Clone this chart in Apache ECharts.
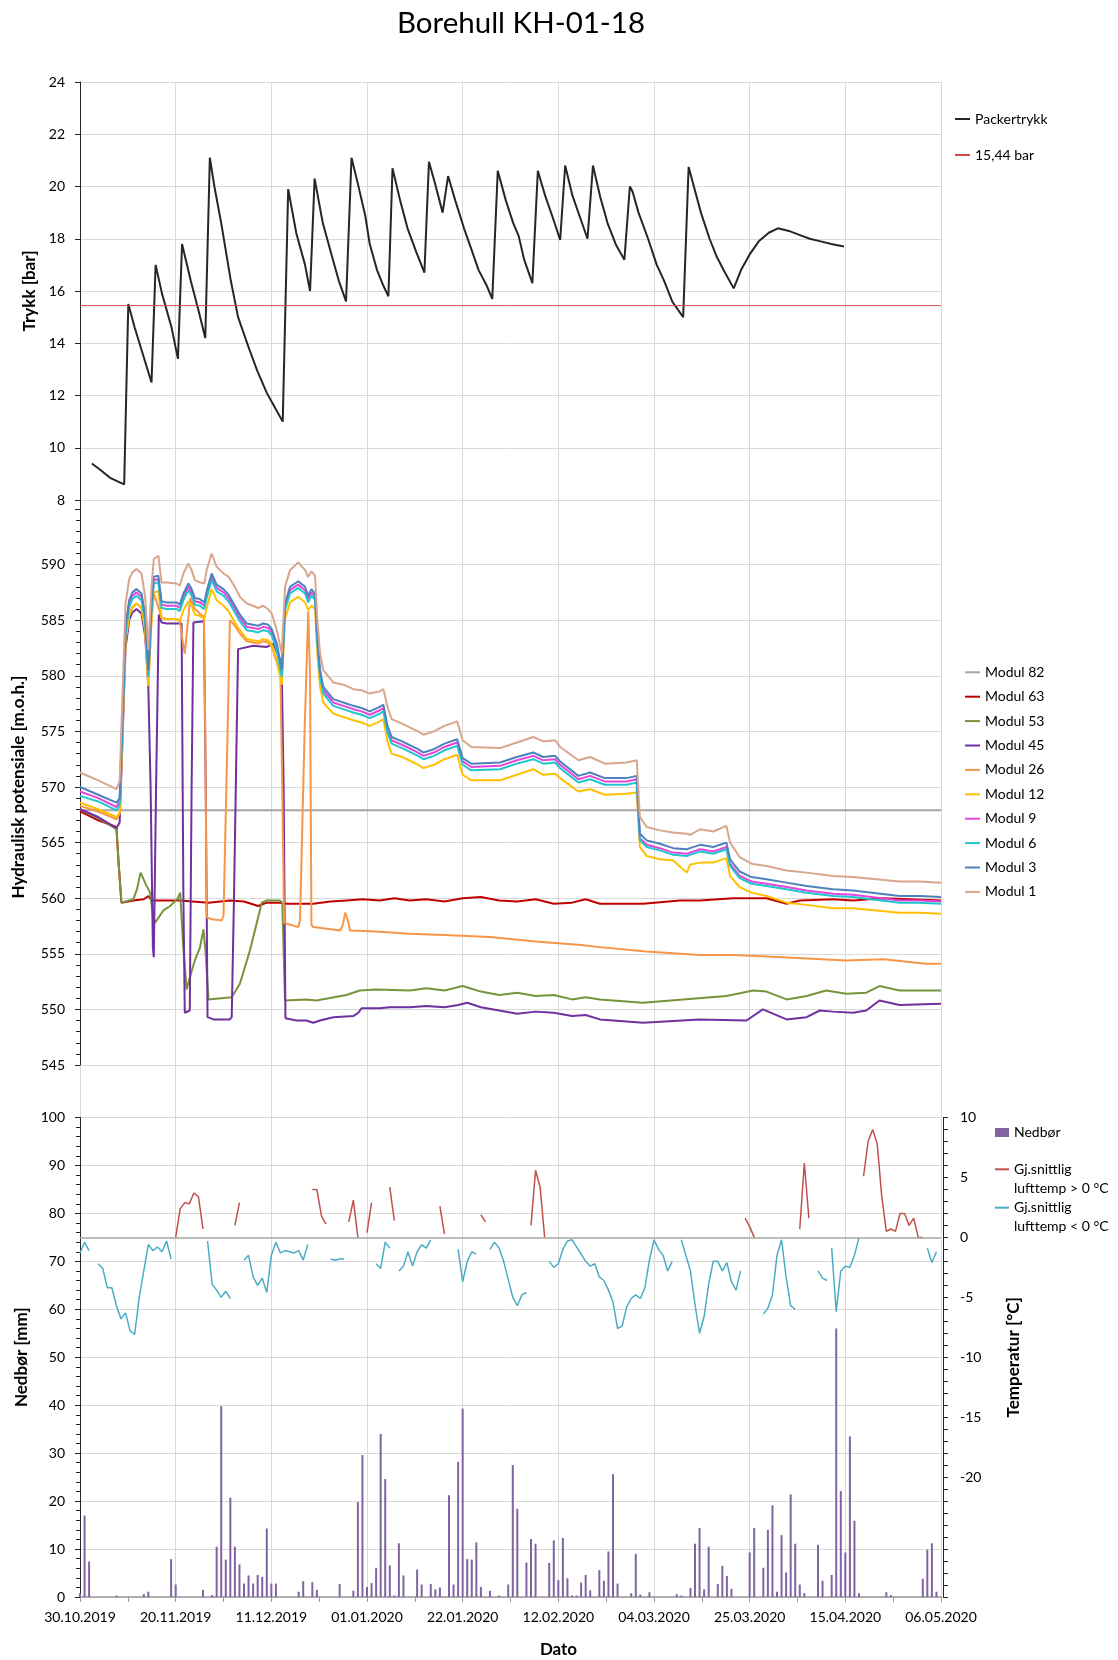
<!DOCTYPE html>
<html>
<head>
<meta charset="utf-8">
<title>Borehull KH-01-18</title>
<script src="https://cdn.jsdelivr.net/npm/echarts@6/dist/echarts.min.js"></script>
<style>
html,body{margin:0;padding:0;background:#ffffff;}
#chart{width:1118px;height:1660px;}
</style>
</head>
<body>
<div id="chart"></div>
<script>
// x values = days after 30.10.2019
const xTickLabels = ['30.10.2019','20.11.2019','11.12.2019','01.01.2020','22.01.2020','12.02.2020','04.03.2020','25.03.2020','15.04.2020','06.05.2020'];

const packertrykk = [[2.6,9.4],[4.5,9.15],[6.6,8.85],[9.7,8.6],[10.6,15.5],[12,14.6],[15.7,12.5],[16.6,17.0],[18,15.9],[20.1,14.6],[21.5,13.4],[22.4,17.8],[24.3,16.4],[26.1,15.2],[27.5,14.2],[28.5,21.1],[29.5,20.0],[31,18.6],[33.1,16.4],[34.7,15.0],[37.1,13.8],[38.9,12.95],[41,12.1],[42.9,11.5],[44.5,11.0],[45.7,19.9],[47.5,18.2],[49.4,17.0],[50.5,16.0],[51.5,20.3],[53.3,18.6],[55.2,17.4],[56.8,16.4],[58.4,15.6],[59.6,21.1],[61,20.1],[62.6,18.9],[63.6,17.8],[65.2,16.8],[66.6,16.2],[67.7,15.8],[68.6,20.7],[70.3,19.45],[71.9,18.4],[73.8,17.5],[75.6,16.7],[76.6,20.95],[77.8,20.2],[79.6,19.0],[80.8,20.4],[82.4,19.45],[84.3,18.4],[85.9,17.6],[87.5,16.8],[89.3,16.2],[90.5,15.7],[91.7,20.6],[93.5,19.45],[95.1,18.6],[96.3,18.1],[97.5,17.2],[99.3,16.3],[100.5,20.6],[102.1,19.65],[103.7,18.85],[105.4,17.95],[106.5,20.8],[108.1,19.65],[109.7,18.85],[111.4,18.0],[112.6,20.8],[114.2,19.6],[115.8,18.6],[117.7,17.75],[119.5,17.2],[120.7,20.0],[121.3,19.8],[122.6,19.0],[124.7,18.0],[126.6,17.0],[128.2,16.4],[130,15.6],[132.4,15.0],[133.6,20.75],[134.9,19.9],[136.3,19.0],[138.2,18.0],[139.8,17.3],[141.6,16.7],[143.5,16.1],[145.1,16.8],[147,17.4],[149,17.9],[151.2,18.23],[153.2,18.4],[155.6,18.3],[157.9,18.15],[160.2,18.0],[162.6,17.9],[164.9,17.8],[167.7,17.7]];
const refPressure = 15.44;

const hydDays = [0,4,8,8.7,9.3,10,10.8,11.5,12.4,13.5,14.3,15,15.7,16.2,17.2,17.9,19,21.2,21.9,22.7,23.8,24.5,25.2,26.3,27.3,27.8,28.9,30,31.5,32.6,34,35.1,36.6,38,39.1,40.2,41.3,42.1,43.2,44.3,45,46.1,47.9,49.4,50.1,50.8,51.6,52.1,52.7,53.4,55.6,57.8,60,61.8,63.6,65.8,66.6,67.5,68.4,70.7,74.2,75.4,77.7,80,82.8,84,85.9,92.2,95.9,99.5,101.7,104.3,105.4,109.4,112,115.2,120,122.2,122.9,124.4,127.3,130.2,133.2,133.9,136.1,139,141.9,142.7,144.8,147.4,150.7,155.1,159.5,165.3,169.7,179.9,184.3,189];
const modul1 = [571.3,570.6,569.8,570.5,578.0,586.5,588.7,589.3,589.6,589.2,587.1,582.3,588.0,590.5,590.8,588.4,588.4,588.3,588.1,589.2,590.1,589.5,588.6,588.4,588.3,589.5,591.0,589.8,589.2,588.9,588.0,587.1,586.5,586.3,586.1,586.3,586.0,585.6,584.1,582.0,588.0,589.5,590.2,589.5,588.9,589.4,589.0,585.0,582.0,580.5,579.4,579.2,578.8,578.7,578.4,578.6,578.8,577.2,576.1,575.7,575.0,574.7,575.0,575.5,575.9,574.2,573.6,573.5,574.0,574.5,574.1,574.2,573.6,572.4,572.7,572.1,572.2,572.4,567.3,566.4,566.1,565.9,565.8,565.7,566.2,566.0,566.5,565.0,563.7,563.1,562.9,562.5,562.3,562.0,561.9,561.5,561.5,561.4];
const modul3 = [570.0,569.3,568.6,569.0,576.0,584.5,586.8,587.5,587.8,587.4,585.5,580.5,586.5,588.9,589.0,586.7,586.6,586.6,586.4,587.4,588.3,587.8,587.0,586.9,586.6,587.6,589.2,588.2,587.8,587.3,586.3,585.5,584.7,584.6,584.5,584.7,584.6,584.2,582.9,580.5,586.5,588.0,588.5,588.0,587.2,587.8,587.4,583.5,580.5,579.0,577.9,577.6,577.3,577.1,576.8,577.2,577.4,575.5,574.5,574.1,573.4,573.1,573.4,573.9,574.3,572.6,572.1,572.2,572.7,573.1,572.7,572.8,572.3,571.0,571.3,570.8,570.8,571.0,565.8,565.2,564.9,564.5,564.4,564.5,564.8,564.6,565.0,563.5,562.4,561.9,561.7,561.4,561.1,560.8,560.7,560.2,560.2,560.1];
const modul9 = [569.6,569.0,568.2,568.7,575.6,584.2,586.5,587.2,587.5,587.1,585.2,580.2,586.2,588.6,588.7,586.4,586.3,586.3,586.1,587.1,588.0,587.5,586.7,586.6,586.3,587.3,588.9,587.9,587.5,587.0,586.0,585.2,584.4,584.3,584.2,584.4,584.3,583.9,582.6,580.2,586.2,587.7,588.2,587.7,586.9,587.5,587.1,583.2,580.2,578.7,577.6,577.3,577.0,576.8,576.5,576.9,577.1,575.2,574.2,573.8,573.1,572.8,573.1,573.6,574.0,572.3,571.8,571.9,572.4,572.8,572.4,572.5,572.0,570.7,571.0,570.5,570.5,570.7,565.4,564.8,564.5,564.1,564.0,564.1,564.4,564.2,564.6,563.1,562.0,561.5,561.3,561.0,560.7,560.4,560.3,559.8,559.8,559.7];
const modul6 = [569.2,568.7,567.9,568.4,575.3,583.9,586.2,586.9,587.2,586.8,584.9,579.9,585.9,588.3,588.4,586.1,586.0,586.0,585.8,586.8,587.7,587.2,586.4,586.3,586.0,587.0,588.6,587.6,587.2,586.7,585.7,584.9,584.1,584.0,583.9,584.1,584.0,583.6,582.3,579.9,585.9,587.4,587.9,587.4,586.6,587.2,586.8,582.9,579.9,578.4,577.3,577.0,576.7,576.5,576.2,576.6,576.8,574.9,573.9,573.5,572.8,572.5,572.8,573.3,573.7,572.0,571.5,571.6,572.1,572.5,572.1,572.2,571.7,570.4,570.7,570.2,570.2,570.4,565.2,564.6,564.3,563.9,563.8,563.9,564.2,564.0,564.4,562.9,561.8,561.3,561.1,560.8,560.5,560.2,560.1,559.6,559.6,559.5];
const modul12 = [568.6,568.0,567.3,567.7,574.5,583.1,585.4,586.1,586.5,586.1,584.1,579.1,585.1,587.5,587.6,585.2,585.1,585.1,584.9,585.9,586.7,586.3,585.5,585.4,585.1,586.1,587.8,586.8,586.3,585.8,584.8,584.1,583.3,583.2,583.1,583.3,583.2,582.8,581.4,579.2,585.1,586.6,587.1,586.6,585.9,586.3,586.0,582.0,579.0,577.6,576.6,576.3,576.0,575.8,575.5,575.9,576.1,574.1,573.0,572.7,572.0,571.7,572.0,572.5,572.9,571.1,570.6,570.6,571.1,571.6,571.1,571.2,570.8,569.6,569.8,569.3,569.4,569.5,564.6,563.8,563.5,563.4,562.3,563.0,563.2,563.2,563.6,562.0,561.0,560.5,560.2,559.6,559.4,559.1,559.1,558.7,558.7,558.6];
const modul26 = [[0,568.3],[4,567.8],[8,567.1],[8.7,567.6],[9.3,574.6],[10,583.3],[10.8,585.6],[11.5,586.2],[12.4,586.5],[13.5,586.1],[14.3,584.1],[15,579.1],[15.7,585.1],[16.2,587.4],[17.2,586.2],[17.9,585.2],[19,585.1],[21.2,585.1],[21.9,585.0],[22.4,583.5],[23,582.0],[23.6,584.5],[24.2,587.0],[25.2,586.0],[26.3,585.6],[27.2,585.3],[27.5,575],[27.8,558.3],[29,558.1],[31.1,558.0],[31.5,558.4],[32.4,575],[32.9,585.0],[34,584.5],[35.1,583.8],[36.6,583.1],[38,583.0],[39.1,582.9],[40.2,583.1],[41.3,583.0],[42.1,582.6],[43.2,581.2],[44,580.0],[44.4,570],[44.8,557.8],[45.4,557.7],[47.9,557.4],[48.3,558.0],[49.3,575],[50.1,585.8],[50.5,580],[50.8,557.6],[51.2,557.4],[55,557.2],[57.1,557.1],[57.7,557.6],[58.2,558.7],[58.8,558.0],[59.3,557.1],[65,557.0],[72.4,556.8],[80,556.7],[90,556.5],[100,556.1],[110,555.8],[114.1,555.6],[124.3,555.2],[136,554.9],[143.4,554.9],[154.3,554.7],[168.2,554.4],[176.3,554.5],[185.8,554.1],[189,554.1]];
const modul45 = [[0,568.0],[4,567.3],[8,566.3],[8.7,566.8],[9.3,573.8],[10,582.5],[10.8,585.0],[11.5,585.7],[12.4,586.0],[13.5,585.6],[14.3,583.6],[15,579.0],[15.5,570],[16,555.5],[16.2,554.7],[16.7,570],[17.3,585.5],[17.9,584.8],[19,584.7],[22.3,584.7],[22.7,560],[23,549.7],[24.1,549.9],[24.5,570],[24.9,584.8],[27.2,584.9],[27.6,570],[28,549.3],[29.3,549.1],[32.9,549.1],[33.3,549.3],[33.8,560],[34.7,582.4],[38,582.7],[41,582.6],[42.4,582.9],[43.9,581.5],[44.3,580.2],[44.7,570],[45.1,549.2],[47.5,549.0],[49.7,549.0],[51.2,548.8],[52.7,549.0],[55.6,549.3],[60,549.4],[61.1,549.7],[61.8,550.1],[65.8,550.1],[68,550.2],[72.4,550.2],[76,550.3],[80,550.2],[83,550.4],[85,550.6],[88,550.2],[92,549.9],[96,549.6],[100,549.8],[104,549.7],[108,549.4],[111,549.5],[114.1,549.1],[123.6,548.8],[136,549.1],[146.3,549.0],[149.9,550.0],[155.1,549.1],[159.5,549.3],[162.4,549.9],[165.3,549.8],[169.7,549.7],[172.6,549.9],[175.5,550.8],[179.9,550.4],[189,550.5]];
const modul53 = [[0,568.0],[4,567.2],[8,566.2],[8.5,563],[9.1,559.6],[11.7,559.9],[12.5,560.8],[13.3,562.3],[14.5,561.2],[15.4,560.5],[16,558.5],[16.5,557.8],[18.3,558.9],[19.8,559.3],[21.5,560.0],[22,560.5],[22.6,556],[23.4,551.8],[24.2,553],[25.2,554.4],[26.3,555.5],[27.1,557.2],[27.6,555],[28.2,550.9],[33.3,551.1],[35.1,552.3],[37.3,555.3],[39.9,559.6],[41,559.8],[43.9,559.8],[44.4,559.6],[45,550.8],[49.7,550.9],[51.9,550.8],[58.5,551.3],[61.4,551.7],[65,551.8],[72.4,551.7],[76,551.9],[80,551.7],[84,552.1],[88,551.6],[92,551.3],[96,551.5],[100,551.2],[104,551.3],[108,550.9],[111,551.1],[114.1,550.9],[123.6,550.6],[132.4,550.9],[141.9,551.2],[147.8,551.7],[150.7,551.6],[155.1,550.9],[159.5,551.2],[163.8,551.7],[168.2,551.4],[172.6,551.5],[175.5,552.1],[179.9,551.7],[189,551.7]];
const modul63 = [[0,567.8],[4,567.0],[8,566.4],[8.5,563],[9.1,559.6],[11.7,559.8],[14,559.9],[15,560.2],[15.7,559.8],[22,559.8],[28.2,559.6],[32.9,559.8],[36,559.7],[39.1,559.3],[41,559.6],[43.9,559.6],[45.4,559.5],[51.2,559.5],[55,559.7],[58.5,559.8],[62,559.9],[65.8,559.8],[69,560.0],[72.4,559.8],[76,559.9],[80,559.7],[84,560.0],[88,560.1],[92,559.8],[96,559.7],[100,559.9],[104,559.5],[108,559.6],[111,559.9],[114.1,559.5],[123.6,559.5],[131.7,559.8],[136,559.8],[143.4,560.0],[150.7,560.0],[155.1,559.5],[158,559.8],[165.3,559.9],[169.7,559.8],[176.3,560.0],[189,559.8]];
const modul82Level = 567.9;

const rainDays = [0,1,2,8,14,15,20,21,27,29,30,31,32,33,34,35,36,37,38,39,40,41,42,43,48,49,51,52,57,60,61,62,63,64,65,66,67,68,69,70,71,74,75,77,78,79,81,82,83,84,85,86,87,88,90,92,94,95,96,98,99,100,103,104,105,106,107,108,109,110,111,112,114,115,116,117,118,121,122,123,125,131,132,134,135,136,137,138,140,141,142,143,147,148,150,151,152,153,154,155,156,157,158,159,162,163,165,166,167,168,169,170,171,177,178,185,186,187,188];
const rainMm = [0.8,17,7.4,0.3,0.6,1.1,7.9,2.6,1.5,0.4,10.5,39.8,7.8,20.7,10.5,6.8,2.8,4.5,2.8,4.6,4.2,14.3,2.8,2.8,1.1,3.3,3.1,1.5,2.7,1.3,19.8,29.6,2.1,2.9,6.1,34,24.6,6.6,0.3,11.2,4.5,5.7,2.6,2.7,1.6,2.0,21.2,2.6,28.2,39.3,7.9,7.8,11.4,2.1,1.3,0.3,2.6,27.5,18.4,7.2,12.1,11.1,7.1,11.8,3.5,12.3,3.9,0.3,0.3,3.0,4.6,1.4,5.6,3.4,9.5,25.6,2.8,0.8,9.0,0.5,1.0,0.6,0.3,1.9,11.1,14.4,1.6,10.5,2.7,6.5,4.4,1.7,9.3,14.4,6.1,14.0,19.1,1.1,12.9,5.1,21.4,11.1,2.6,0.8,10.9,3.4,4.6,56,22.1,9.3,33.5,15.9,0.8,1.0,0.4,3.8,9.9,11.2,1.1];

const tempAbove0 = [[21,0],[22,2.4],[23,2.9],[24,2.8],[25,3.7],[26,3.4],[27,0.7],[27.5,null],[34,1.0],[35,2.9],[35.5,null],[51,4.0],[52,4.0],[53,1.8],[54,1.1],[54.5,null],[59,1.3],[60,3.1],[61,0],[61.5,null],[63,0.4],[64,2.9],[64.5,null],[68,4.2],[69,1.4],[69.5,null],[79,2.6],[80,0.3],[80.5,null],[88,1.9],[89,1.3],[89.5,null],[99,1.0],[100,5.6],[101,4.2],[102,0],[102.5,null],[146,1.6],[147,0.9],[148,0],[148.5,null],[158,0.7],[159,6.2],[160,1.6],[160.5,null],[172,5.1],[173,8.0],[174,9.0],[175,7.8],[176,3.4],[177,0.5],[178,0.7],[179,0.5],[180,2.0],[181,2.0],[182,1.0],[183,1.6],[184,0],[185,0]];
const tempBelow0 = [[0,-1.3],[1,-0.4],[2,-1.1],[2.5,null],[4,-2.2],[5,-2.6],[6,-4.2],[7,-4.2],[8,-5.7],[9,-6.8],[10,-6.3],[11,-7.8],[12,-8.1],[13,-5.0],[14,-2.8],[15,-0.6],[16,-1.1],[17,-0.8],[18,-1.2],[19,-0.3],[20,-1.8],[20.5,null],[28,-0.3],[29,-3.9],[30,-4.4],[31,-5.0],[32,-4.5],[33,-5.1],[33.5,null],[36,-1.9],[37,-1.5],[38,-3.3],[39,-4.0],[40,-3.4],[41,-4.6],[42,-1.5],[43,-0.4],[44,-1.3],[45,-1.1],[46,-1.2],[47,-1.3],[48,-1.1],[49,-1.9],[50,-0.6],[50.5,null],[55,-1.8],[56,-1.9],[57,-1.8],[58,-1.8],[58.5,null],[65,-2.2],[66,-2.6],[67,-0.4],[68,-0.9],[68.5,null],[70,-2.8],[71,-2.4],[72,-1.2],[73,-2.4],[74,-1.2],[75,-0.6],[76,-0.9],[77,-0.2],[77.5,null],[83,-1.0],[84,-3.7],[85,-2.0],[86,-1.2],[87,-1.4],[87.5,null],[90,-1.0],[91,-0.4],[92,-0.9],[93,-2.0],[94,-3.5],[95,-5.0],[96,-5.7],[97,-4.8],[98,-4.6],[98.5,null],[103,-2.0],[104,-2.5],[105,-2.2],[106,-1.0],[107,-0.3],[108,-0.2],[109,-0.8],[110,-1.4],[111,-2.0],[112,-2.4],[113,-2.2],[114,-3.3],[115,-3.6],[116,-4.4],[117,-5.4],[118,-7.6],[119,-7.4],[120,-5.8],[121,-5.1],[122,-4.8],[123,-5.1],[124,-4.2],[125,-1.9],[126,-0.2],[127,-1.0],[128,-1.5],[129,-2.8],[130,-2.0],[130.5,null],[132,-0.2],[133,-1.5],[134,-2.8],[135,-5.6],[136,-8.0],[137,-6.6],[138,-3.9],[139,-2.0],[140,-2.0],[141,-2.8],[142,-2.1],[143,-3.7],[144,-4.4],[145,-2.8],[145.5,null],[150,-6.4],[151,-5.9],[152,-4.8],[153,-1.5],[154,-0.2],[155,-3.3],[156,-5.7],[157,-6.0],[157.5,null],[162,-2.8],[163,-3.4],[164,-3.6],[164.5,null],[165,-0.9],[166,-6.2],[167,-2.8],[168,-2.4],[169,-2.5],[170,-1.5],[171,0],[171.5,null],[186,-0.9],[187,-2.1],[188,-1.2]];

const F = 'Lato, "Open Sans", sans-serif';
const GRID_LEFT = 80, GRID_RIGHT = 177;
const GRID_COLOR = '#d9d9d9';
const AXIS_COLOR = '#262626';

function xAxisBase(gridIndex, showLabels) {
  return {
    type: 'value', gridIndex: gridIndex, min: 0, max: 189, interval: 21,
    axisLine: { show: showLabels, onZero: false, lineStyle: { color: '#9a9a9a', width: 1.5 } },
    axisTick: { show: showLabels, length: 5, lineStyle: { color: '#9a9a9a' } },
    minorTick: { show: showLabels, splitNumber: 2, length: 5, lineStyle: { color: '#9a9a9a' } },
    axisLabel: {
      show: showLabels, margin: 13, color: '#000', fontFamily: F, fontSize: 14,
      formatter: function (v) { const i = Math.round(v / 21); return Math.abs(v - i * 21) < 1e-6 ? xTickLabels[i] : ''; }
    },
    splitLine: { show: true, lineStyle: { color: GRID_COLOR, width: 1 } },
    minorSplitLine: { show: false }
  };
}

const nameStyle = { fontFamily: F, fontSize: 17, fontWeight: 'bold', color: '#000' };
const lblStyle = { color: '#000', fontFamily: F, fontSize: 14 };
const legendText = { fontFamily: F, fontSize: 14, color: '#000', lineHeight: 17 };
const tempLegendText = { fontFamily: F, fontSize: 14, color: '#000', lineHeight: 19 };
function tempLegendFormatter(n) { return '\n' + n.replace(' lufttemp', '\nlufttemp'); }

function lineSeries(name, data, color, xi, yi, width) {
  return {
    name: name, type: 'line', xAxisIndex: xi, yAxisIndex: yi, data: data,
    showSymbol: false, symbol: 'none', color: color, itemStyle: { color: color },
    lineStyle: { color: color, width: width || 2 }, connectNulls: false, animation: false
  };
}
function zipDays(vals) { return hydDays.map(function (d, i) { return [d, vals[i]]; }); }

const option = {
  backgroundColor: '#ffffff',
  animation: false,
  title: {
    text: 'Borehull KH-01-18', left: 521, top: 5, textAlign: 'center', padding: 0,
    textStyle: { fontFamily: F, fontSize: 29.5, fontWeight: 'normal', color: '#000', lineHeight: 36 }
  },
  grid: [
    { left: GRID_LEFT, right: GRID_RIGHT, top: 82, height: 418, outerBoundsMode: 'none' },
    { left: GRID_LEFT, right: GRID_RIGHT, top: 500, height: 9, outerBoundsMode: 'none' },
    { left: GRID_LEFT, right: GRID_RIGHT, top: 509, height: 556, outerBoundsMode: 'none' },
    { left: GRID_LEFT, right: GRID_RIGHT, top: 1065, height: 52.5, outerBoundsMode: 'none' },
    { left: GRID_LEFT, right: GRID_RIGHT, top: 1117.5, height: 479.5, outerBoundsMode: 'none' }
  ],
  xAxis: [xAxisBase(0, false), xAxisBase(1, false), xAxisBase(2, false), xAxisBase(3, false),
    Object.assign(xAxisBase(4, true), {
      name: 'Dato', nameLocation: 'middle', nameGap: 44,
      nameTextStyle: Object.assign({}, nameStyle, { padding: [0, 0, 0, 96] })
    })],
  yAxis: [
    { type: 'value', gridIndex: 0, min: 8, max: 24, interval: 2,
      name: 'Trykk [bar]', nameLocation: 'middle', nameGap: 42, nameTextStyle: nameStyle,
      axisLine: { show: true, lineStyle: { color: AXIS_COLOR } },
      axisTick: { show: true, length: 5, lineStyle: { color: AXIS_COLOR } },
      axisLabel: Object.assign({ margin: 15 }, lblStyle),
      splitLine: { show: true, lineStyle: { color: GRID_COLOR } } },
    { type: 'value', gridIndex: 1, min: 0, max: 1,
      axisLine: { show: true, lineStyle: { color: AXIS_COLOR } },
      axisTick: { show: false }, axisLabel: { show: false }, splitLine: { show: false } },
    { type: 'value', gridIndex: 2, min: 545, max: 595, interval: 5,
      name: 'Hydraulisk potensiale [m.o.h.]', nameLocation: 'middle', nameGap: 53, nameTextStyle: nameStyle,
      axisLine: { show: true, lineStyle: { color: AXIS_COLOR } },
      axisTick: { show: true, length: 5, lineStyle: { color: AXIS_COLOR } },
      minorTick: { show: true, splitNumber: 5, length: 4, lineStyle: { color: AXIS_COLOR } },
      axisLabel: Object.assign({ margin: 15, formatter: function (v) { return v >= 595 ? '' : String(v); } }, lblStyle),
      splitLine: { show: true, showMaxLine: false, lineStyle: { color: GRID_COLOR } } },
    { type: 'value', gridIndex: 3, min: 0, max: 1, show: false },
    { type: 'value', gridIndex: 4, min: 0, max: 100, interval: 10,
      name: 'Nedbør [mm]', nameLocation: 'middle', nameGap: 49, nameTextStyle: nameStyle,
      axisLine: { show: true, lineStyle: { color: AXIS_COLOR } },
      axisTick: { show: true, length: 5, lineStyle: { color: AXIS_COLOR } },
      minorTick: { show: true, splitNumber: 5, length: 4, lineStyle: { color: AXIS_COLOR } },
      axisLabel: Object.assign({ margin: 15 }, lblStyle),
      splitLine: { show: true, lineStyle: { color: GRID_COLOR } } },
    { type: 'value', gridIndex: 4, min: -30, max: 10, interval: 5, position: 'right', offset: 2,
      name: 'Temperatur [°C]', nameLocation: 'middle', nameGap: 62, nameTextStyle: nameStyle,
      axisLine: { show: true, lineStyle: { color: AXIS_COLOR } },
      axisTick: { show: true, length: 5, lineStyle: { color: AXIS_COLOR } },
      minorTick: { show: true, splitNumber: 5, length: 5, lineStyle: { color: AXIS_COLOR } },
      axisLabel: Object.assign({ margin: 17, formatter: function (v) { return v < -20 ? '' : String(v); } }, lblStyle),
      splitLine: { show: false } }
  ],
  legend: [
    { data: ['Packertrykk', '15,44 bar'], orient: 'vertical', left: 955, top: 110.5, padding: 0,
      icon: 'rect', itemWidth: 15, itemHeight: 2, itemGap: 19, selectedMode: false, textStyle: legendText },
    { data: ['Modul 82', 'Modul 63', 'Modul 53', 'Modul 45', 'Modul 26', 'Modul 12', 'Modul 9', 'Modul 6', 'Modul 3', 'Modul 1'],
      orient: 'vertical', left: 965, top: 663.8, padding: 0,
      icon: 'rect', itemWidth: 15, itemHeight: 2, itemGap: 7.4, selectedMode: false, textStyle: legendText },
    { data: ['Nedbør'], orient: 'vertical', left: 995, top: 1124, padding: 0,
      icon: 'rect', itemWidth: 14, itemHeight: 9, selectedMode: false, textStyle: legendText },
    { data: ['Gj.snittlig lufttemp > 0 °C'], orient: 'vertical', left: 995, top: 1140.8, padding: 0,
      icon: 'rect', itemWidth: 14, itemHeight: 2, selectedMode: false,
      formatter: tempLegendFormatter, textStyle: tempLegendText },
    { data: ['Gj.snittlig lufttemp < 0 °C'], orient: 'vertical', left: 995, top: 1179.2, padding: 0,
      icon: 'rect', itemWidth: 14, itemHeight: 2, selectedMode: false,
      formatter: tempLegendFormatter, textStyle: tempLegendText }
  ],
  series: [
    lineSeries('Packertrykk', packertrykk, '#262626', 0, 0, 2),
    lineSeries('15,44 bar', [[0, refPressure], [189, refPressure]], '#cf4b4b', 0, 0, 1),
    lineSeries('Modul 82', [[0, modul82Level], [189, modul82Level]], '#a5a5a5', 2, 2, 2),
    lineSeries('Modul 63', modul63, '#c00000', 2, 2, 2),
    lineSeries('Modul 53', modul53, '#77933c', 2, 2, 2),
    lineSeries('Modul 45', modul45, '#7030a0', 2, 2, 2),
    lineSeries('Modul 26', modul26, '#f79646', 2, 2, 2),
    lineSeries('Modul 12', zipDays(modul12), '#ffc000', 2, 2, 2),
    lineSeries('Modul 9', zipDays(modul9), '#e545dd', 2, 2, 2),
    lineSeries('Modul 6', zipDays(modul6), '#1fc6cc', 2, 2, 2),
    lineSeries('Modul 3', zipDays(modul3), '#4f81bd', 2, 2, 2),
    lineSeries('Modul 1', zipDays(modul1), '#d9a58c', 2, 2, 2),
    { name: 'Nedbør', type: 'bar', xAxisIndex: 4, yAxisIndex: 4,
      data: rainDays.map(function (d, i) { return [d, rainMm[i]]; }),
      barWidth: 2, color: '#8064a2', itemStyle: { color: '#8064a2' }, animation: false },
    Object.assign(lineSeries('Gj.snittlig lufttemp > 0 °C', tempAbove0, '#c0504d', 4, 5, 1.5), {
      markLine: { silent: true, symbol: 'none', label: { show: false },
        lineStyle: { color: '#a6a6a6', width: 1.5, type: 'solid' }, data: [{ yAxis: 0 }] } }),
    lineSeries('Gj.snittlig lufttemp < 0 °C', tempBelow0, '#4bacc6', 4, 5, 1.5)
  ]
};

const chart = echarts.init(document.getElementById('chart'), null, { renderer: 'canvas', width: 1118, height: 1660 });
chart.setOption(option);
</script>
</body>
</html>
